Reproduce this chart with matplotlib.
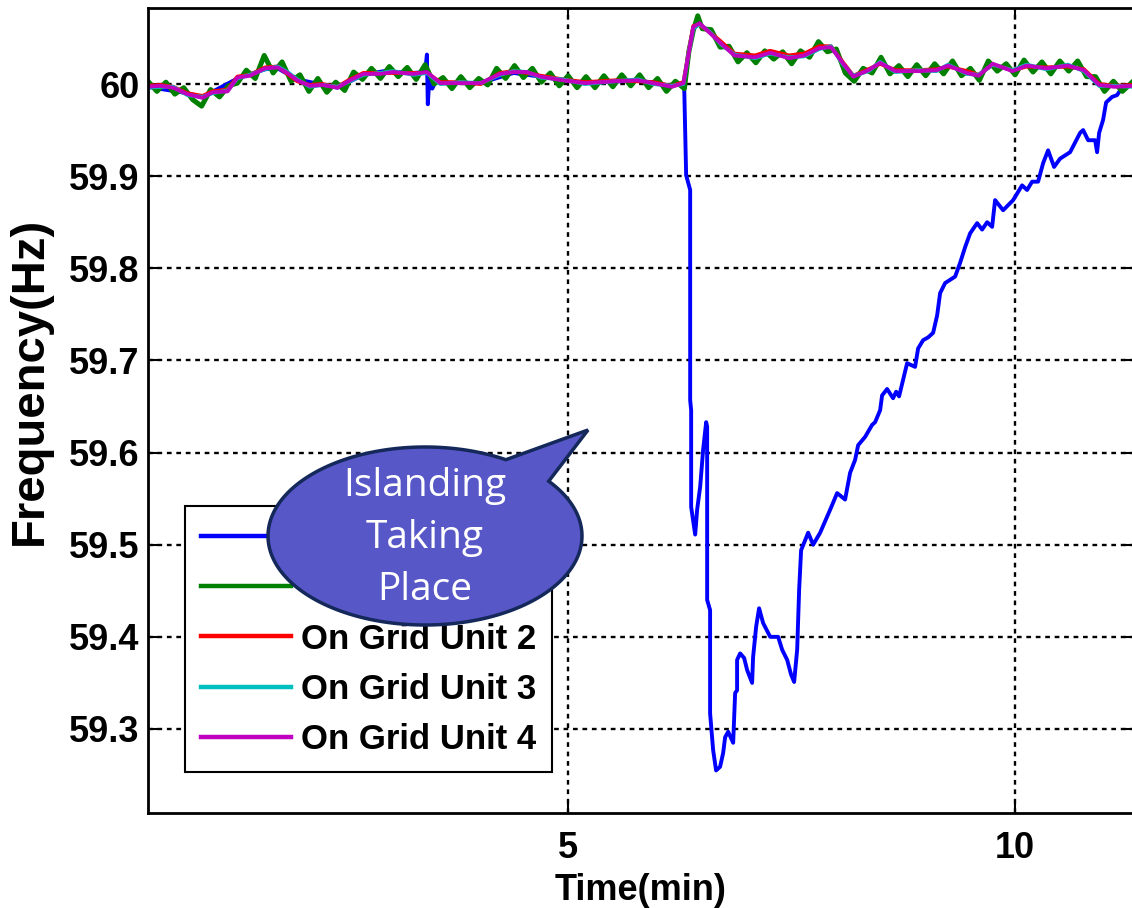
import numpy as np
import matplotlib
matplotlib.use("Agg")
import matplotlib.pyplot as plt
from matplotlib.path import Path
from matplotlib.patches import PathPatch

plt.rcParams['font.family'] = ['Liberation Sans', 'DejaVu Sans']
plt.rcParams['font.weight'] = 'bold'

# ---- data (time in min, frequency in Hz) ----
labels = ['Islanded Unit', 'On Grid Unit 1', 'On Grid Unit 2',
          'On Grid Unit 3', 'On Grid Unit 4']

# islanded unit (blue)
t_island = [0.29, 0.74, 0.91, 1.30, 1.61, 1.75, 1.97, 2.42, 2.71, 3.00, 3.04,
            3.27, 3.40, 3.42, 3.43, 3.45, 3.48, 3.52, 3.57, 4.02, 4.39, 4.69,
            5.19, 5.78, 6.16, 6.26, 6.298, 6.320, 6.365, 6.365, 6.376, 6.376,
            6.421, 6.443, 6.477, 6.510, 6.544, 6.555, 6.555, 6.588, 6.588,
            6.622, 6.655, 6.700, 6.734, 6.756, 6.790, 6.846, 6.868, 6.890,
            6.890, 6.924, 6.969, 7.002, 7.058, 7.069, 7.103, 7.136, 7.181,
            7.260, 7.349, 7.394, 7.450, 7.494, 7.528, 7.562, 7.584, 7.606,
            7.685, 7.741, 7.819, 7.931, 8.009, 8.098, 8.154, 8.210, 8.244,
            8.322, 8.400, 8.434, 8.490, 8.512, 8.568, 8.635, 8.669, 8.702,
            8.747, 8.792, 8.881, 8.915, 8.971, 9.027, 9.083, 9.128, 9.161,
            9.217, 9.329, 9.385, 9.441, 9.497, 9.575, 9.631, 9.687, 9.743,
            9.776, 9.866, 9.978, 10.078, 10.134, 10.190, 10.257, 10.313,
            10.369, 10.436, 10.503, 10.615, 10.727, 10.761, 10.817, 10.895,
            10.917, 10.940, 10.984, 11.018, 11.085, 11.141, 11.208, 11.32]
f_island = [59.997, 59.990, 59.986, 60.006, 60.016, 60.017, 60.005, 59.996,
            60.010, 60.015, 60.013, 60.012, 60.013, 60.032, 59.978, 60.010,
            59.995, 60.003, 60.001, 60.001, 60.012, 60.008, 60.001, 60.004,
            59.998, 60.000, 59.998, 59.901, 59.885, 59.657, 59.646, 59.541,
            59.511, 59.538, 59.563, 59.603, 59.633, 59.628, 59.440, 59.429,
            59.317, 59.277, 59.255, 59.259, 59.274, 59.291, 59.297, 59.285,
            59.339, 59.342, 59.375, 59.382, 59.377, 59.364, 59.350, 59.378,
            59.411, 59.431, 59.415, 59.400, 59.400, 59.386, 59.375, 59.359,
            59.351, 59.386, 59.451, 59.494, 59.513, 59.500, 59.513, 59.538,
            59.556, 59.549, 59.578, 59.592, 59.608, 59.617, 59.630, 59.633,
            59.646, 59.662, 59.669, 59.659, 59.666, 59.661, 59.679, 59.697,
            59.693, 59.713, 59.722, 59.725, 59.730, 59.749, 59.773, 59.784,
            59.791, 59.806, 59.823, 59.838, 59.849, 59.842, 59.850, 59.845,
            59.874, 59.863, 59.874, 59.890, 59.885, 59.894, 59.894, 59.914,
            59.928, 59.910, 59.919, 59.926, 59.947, 59.950, 59.939, 59.939,
            59.926, 59.947, 59.961, 59.980, 59.986, 59.988, 59.998, 59.998]

# on grid unit 1 (green, noisy)
t_unit1 = [0.3, 0.4, 0.5, 0.6, 0.7, 0.8, 0.9, 1.0, 1.1, 1.2, 1.3, 1.4, 1.5,
           1.6, 1.7, 1.8, 1.9, 2.0, 2.1, 2.2, 2.3, 2.4, 2.5, 2.6, 2.7, 2.8,
           2.9, 3.0, 3.1, 3.2, 3.3, 3.4, 3.5, 3.6, 3.7, 3.8, 3.9, 4.0, 4.1,
           4.2, 4.3, 4.4, 4.5, 4.6, 4.7, 4.8, 4.9, 5.0, 5.1, 5.2, 5.3, 5.4,
           5.5, 5.6, 5.7, 5.8, 5.9, 6.0, 6.1, 6.2, 6.3, 6.35, 6.4, 6.45, 6.5,
           6.6, 6.7, 6.8, 6.9, 7.0, 7.1, 7.2, 7.3, 7.4, 7.5, 7.6, 7.7, 7.8,
           7.9, 8.0, 8.1, 8.2, 8.3, 8.4, 8.5, 8.6, 8.7, 8.8, 8.9, 9.0, 9.1,
           9.2, 9.3, 9.4, 9.5, 9.6, 9.7, 9.8, 9.9, 10.0, 10.1, 10.2, 10.3,
           10.4, 10.5, 10.6, 10.7, 10.8, 10.9, 11.0, 11.1, 11.2, 11.32]
f_unit1 = [60.003, 59.992, 60.002, 59.989, 59.996, 59.983, 59.976, 59.994,
           59.986, 59.998, 60.001, 60.015, 60.006, 60.031, 60.012, 60.024,
           60.003, 60.010, 59.992, 60.006, 59.991, 60.002, 59.993, 60.013,
           60.005, 60.017, 60.006, 60.019, 60.008, 60.018, 60.005, 60.021,
           60.000, 60.007, 59.995, 60.008, 59.996, 60.006, 59.999, 60.017,
           60.006, 60.020, 60.007, 60.017, 60.002, 60.012, 59.998, 60.009,
           59.996, 60.008, 59.996, 60.009, 59.997, 60.010, 59.998, 60.010,
           59.996, 60.006, 59.992, 60.003, 59.995, 60.035, 60.058, 60.074,
           60.060, 60.059, 60.040, 60.041, 60.024, 60.034, 60.023, 60.036,
           60.027, 60.035, 60.022, 60.036, 60.029, 60.046, 60.035, 60.038,
           60.012, 60.003, 60.017, 60.012, 60.029, 60.011, 60.020, 60.008,
           60.021, 60.009, 60.022, 60.011, 60.025, 60.009, 60.017, 60.004,
           60.025, 60.014, 60.022, 60.010, 60.026, 60.013, 60.024, 60.011,
           60.025, 60.014, 60.025, 60.008, 60.008, 59.992, 60.003, 59.992,
           60.003]

# on grid units 2-4 share one time base
t_grid = [0.29, 0.44, 0.58, 0.74, 0.91, 1.02, 1.19, 1.30, 1.44, 1.61,
          1.75, 1.86, 1.97, 2.11, 2.25, 2.42, 2.56, 2.71, 2.90, 3.04,
          3.27, 3.42, 3.57, 3.79, 4.02, 4.24, 4.39, 4.54, 4.69, 4.94,
          5.19, 5.53, 5.78, 5.95, 6.16, 6.29, 6.35, 6.40, 6.47, 6.59,
          6.71, 6.86, 7.09, 7.26, 7.47, 7.64, 7.81, 7.94, 8.07, 8.19,
          8.36, 8.49, 8.66, 8.92, 9.12, 9.25, 9.46, 9.59, 9.75, 9.97,
          10.13, 10.35, 10.59, 10.77, 10.94, 11.11, 11.32]
f_unit2 = [59.998, 59.999, 59.997, 59.990, 59.987, 59.992, 59.994, 60.008,
           60.010, 60.018, 60.019, 60.011, 60.003, 59.999, 60.000, 59.997,
           60.005, 60.012, 60.012, 60.012, 60.012, 60.012, 60.002, 60.002,
           60.000, 60.012, 60.014, 60.012, 60.009, 60.005, 60.002, 60.004,
           60.003, 60.002, 59.998, 60.002, 60.036, 60.063, 60.064, 60.056,
           60.046, 60.033, 60.031, 60.036, 60.031, 60.033, 60.041, 60.041,
           60.024, 60.009, 60.016, 60.022, 60.015, 60.015, 60.016, 60.019,
           60.014, 60.010, 60.021, 60.015, 60.019, 60.018, 60.019, 60.016,
           60.000, 59.998, 59.999]
f_unit3 = [59.996, 59.997, 59.997, 59.988, 59.986, 59.990, 59.993, 60.006,
           60.010, 60.016, 60.019, 60.013, 60.005, 59.997, 59.999, 59.997,
           60.003, 60.010, 60.012, 60.014, 60.010, 60.012, 60.000, 60.002,
           60.001, 60.010, 60.014, 60.013, 60.007, 60.005, 60.000, 60.003,
           60.005, 60.000, 59.998, 60.000, 60.035, 60.060, 60.065, 60.056,
           60.043, 60.032, 60.028, 60.033, 60.029, 60.030, 60.038, 60.041,
           60.022, 60.009, 60.014, 60.024, 60.013, 60.015, 60.014, 60.021,
           60.011, 60.010, 60.021, 60.015, 60.021, 60.016, 60.021, 60.014,
           59.998, 59.998, 59.997]
f_unit4 = [59.997, 59.998, 59.996, 59.989, 59.985, 59.991, 59.992, 60.007,
           60.009, 60.017, 60.018, 60.012, 60.004, 59.998, 59.999, 59.996,
           60.004, 60.011, 60.011, 60.013, 60.011, 60.013, 60.001, 60.001,
           60.001, 60.011, 60.013, 60.013, 60.008, 60.004, 60.001, 60.003,
           60.004, 60.001, 59.997, 60.001, 60.034, 60.062, 60.066, 60.055,
           60.044, 60.031, 60.029, 60.034, 60.028, 60.031, 60.039, 60.040,
           60.023, 60.008, 60.015, 60.023, 60.014, 60.014, 60.015, 60.020,
           60.012, 60.009, 60.022, 60.014, 60.020, 60.017, 60.020, 60.015,
           59.999, 59.997, 59.998]

x_ticks = [5, 10]
y_ticks = [59.3, 59.4, 59.5, 59.6, 59.7, 59.8, 59.9, 60.0]
y_ticklabels = ['59.3', '59.4', '59.5', '59.6', '59.7', '59.8', '59.9', '60']

W, H = 1132, 908
fig = plt.figure(figsize=(W / 100, H / 100), dpi=100)
ax = fig.add_axes([148 / W, 1 - 813 / H, (1134 - 148) / W, (813 - 8) / H])

lw = 2.8
ax.plot(t_island, f_island, color=(0, 0, 1), lw=lw, label=labels[0])
ax.plot(t_unit1, f_unit1, color=(0, 0.5, 0), lw=3.6, label=labels[1])
ax.plot(t_grid, f_unit2, color=(1, 0, 0), lw=lw, label=labels[2])
ax.plot(t_grid, f_unit3, color=(0, 0.75, 0.75), lw=lw, label=labels[3])
ax.plot(t_grid, f_unit4, color=(0.75, 0, 0.75), lw=lw, label=labels[4])

ax.set_xlim(0.30, 11.33)
ax.set_ylim(59.2088, 60.0825)
ax.set_xticks(x_ticks)
ax.set_xticklabels([str(v) for v in x_ticks])
ax.set_yticks(y_ticks)
ax.set_yticklabels(y_ticklabels)
ax.tick_params(direction='in', top=True, right=True, length=7, width=1.5,
               labelsize=26)
ax.tick_params(axis='x', pad=13)
ax.tick_params(axis='y', pad=6)
ax.grid(True, color='k', linestyle=(0, (2, 2)), linewidth=1.7)
for s in ax.spines.values():
    s.set_linewidth(2)

ax.set_xlabel('Time(min)', fontsize=26, fontweight='bold', va='center')
ax.xaxis.set_label_coords(0.5, -0.0957)
ax.set_ylabel('Frequency(Hz)', fontsize=34, fontweight='bold',
              va='center', ha='center')
ax.yaxis.set_label_coords((30 - 148) / 986, (813 - 381) / 805)

leg = ax.legend(loc='lower left', bbox_to_anchor=(185 / W, 1 - 772 / H),
                bbox_transform=fig.transFigure, fontsize=25, frameon=True,
                fancybox=False, framealpha=1, edgecolor='k', borderaxespad=0,
                handlelength=2.6, handletextpad=0.3, labelspacing=0.5,
                borderpad=0.45)
leg.get_frame().set_linewidth(1.5)
for h in leg.get_lines():
    h.set_linewidth(3.2)

# speech bubble "Islanding Taking Place" (drawn in pixel space)
cx, cy, a, b = 425, 536, 157, 89
th = np.radians(np.linspace(-38, 301, 200))
px = cx + a * np.cos(th)
py = cy + b * np.sin(th)
px = np.append(px, 588)
py = np.append(py, 430)
verts = np.column_stack([px / W, 1 - py / H])
verts = np.vstack([verts, verts[:1]])
codes = [Path.MOVETO] + [Path.LINETO] * (len(verts) - 2) + [Path.CLOSEPOLY]
bubble = PathPatch(Path(verts, codes), facecolor='#5757C8', edgecolor='#14285A',
                   lw=2.5, transform=fig.transFigure, zorder=10)
fig.add_artist(bubble)
fig.text(cx / W, 1 - 538 / H, 'Islanding\nTaking\nPlace', color='white',
         fontsize=28, family=['Open Sans', 'DejaVu Sans'], fontweight='normal',
         ha='center', va='center', multialignment='center', linespacing=1.5,
         zorder=11)

fig.savefig('out.png', dpi=100)
